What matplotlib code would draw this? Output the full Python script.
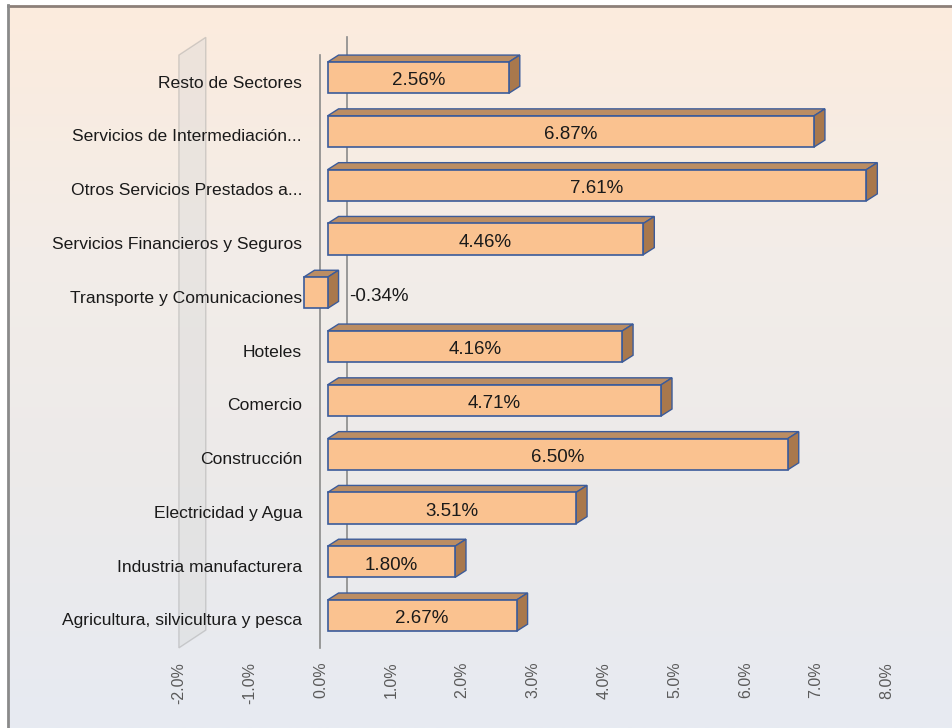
import matplotlib

matplotlib.use("Agg")
import matplotlib.pyplot as plt
import numpy as np
from matplotlib.colors import LinearSegmentedColormap
from matplotlib.patches import Polygon, Rectangle

plt.rcParams["font.family"] = ["Liberation Sans", "DejaVu Sans"]

# Datos (de abajo hacia arriba)
sectores = [
    "Agricultura, silvicultura y pesca",
    "Industria manufacturera",
    "Electricidad y Agua",
    "Construcción",
    "Comercio",
    "Hoteles",
    "Transporte y Comunicaciones",
    "Servicios Financieros y Seguros",
    "Otros Servicios Prestados a...",
    "Servicios de Intermediación...",
    "Resto de Sectores",
]
crecimiento = [2.67, 1.80, 3.51, 6.50, 4.71, 4.16, -0.34, 4.46, 7.61, 6.87, 2.56]
ticks_x = [-2, -1, 0, 1, 2, 3, 4, 5, 6, 7, 8]

# Estilo 3D
FRONT = 0.10       # desplazamiento de la cara frontal
DX, DY = 0.155, 0.13   # profundidad de la barra
WX, WY = 0.38, 0.33    # profundidad de las paredes
H = 0.58
C_FRONT = "#fac290"
C_TOP = "#bb8d63"
C_SIDE = "#a9784c"
C_EDGE = "#3b5b9a"

fig = plt.figure(figsize=(9.53, 7.28), dpi=100)

# fondo degradado
bg = fig.add_axes([0, 0, 1, 1], zorder=-10)
bg.set_xlim(0, 953)
bg.set_ylim(728, 0)
bg.axis("off")
cmap = LinearSegmentedColormap.from_list(
    "fondo", ["#fcebdd", "#f3ede8", "#eceaea", "#e7ebf2"])
grad = np.linspace(0, 1, 256).reshape(-1, 1)
bg.imshow(grad, cmap=cmap, aspect="auto", extent=[9, 953, 728, 6])
bg.add_patch(Rectangle((0, 0), 953, 5.5, color="white", lw=0))
bg.add_patch(Rectangle((0, 0), 8, 728, color="white", lw=0))
bg.plot([8, 953], [6, 6], color="#8c8079", lw=2)
bg.plot([8.5, 8.5], [5, 728], color="#8a8a8a", lw=2)

ax = fig.add_axes([0.158, 0.1071, 0.8172, 0.8516])
ax.set_xlim(-2.4, 8.6)
ax.set_ylim(-0.54, 10.985)
ax.patch.set_alpha(0)
for s in ax.spines.values():
    s.set_visible(False)

y_front_top, y_front_bot = 10.52, -0.50

# pared lateral izquierda
wall = Polygon([(-2, y_front_bot), (-2, y_front_top),
                (-2 + WX, y_front_top + WY), (-2 + WX, y_front_bot + WY)],
               closed=True, facecolor="#d6d6d6", alpha=0.35,
               edgecolor="#8f8f8f", lw=1, zorder=1)
ax.add_patch(wall)

# líneas del cero (frente y fondo)
ax.plot([0, 0], [y_front_bot, y_front_top], color="#8a8a8a", lw=1.2, zorder=1)
ax.plot([WX, WX], [y_front_bot + WY, y_front_top + WY], color="#8a8a8a",
        lw=1.2, zorder=1)

for i, v in enumerate(crecimiento):
    yc = i + 0.10
    x_lo = min(0, v) + FRONT
    x_hi = max(0, v) + FRONT
    y0, y1 = yc - H / 2, yc + H / 2
    top = Polygon([(x_lo, y1), (x_hi, y1), (x_hi + DX, y1 + DY), (x_lo + DX, y1 + DY)],
                  closed=True, facecolor=C_TOP, edgecolor=C_EDGE, lw=1, zorder=3)
    side = Polygon([(x_hi, y0), (x_hi, y1), (x_hi + DX, y1 + DY), (x_hi + DX, y0 + DY)],
                   closed=True, facecolor=C_SIDE, edgecolor=C_EDGE, lw=1, zorder=3)
    ax.add_patch(top)
    ax.add_patch(side)
    ax.barh(yc, x_hi - x_lo, left=x_lo, height=H, color=C_FRONT,
            edgecolor=C_EDGE, lw=1.2, zorder=4)
    if v >= 0:
        ax.text((x_lo + x_hi) / 2, yc - 0.06, f"{v:.2f}%", ha="center",
                va="center", fontsize=13.5, color="#1a1a1a", zorder=5)
    else:
        ax.text(x_hi + DX + 0.15, yc - 0.06, f"{v:.2f}%", ha="left",
                va="center", fontsize=13.5, color="#1a1a1a", zorder=5)
    ax.text(-0.26, i, sectores[i], ha="right", va="center",
            fontsize=12.6, color="#1a1a1a", zorder=2)

ax.set_yticks([])
ax.set_xticks(ticks_x)
ax.set_xticklabels([f"{t:.1f}%" for t in ticks_x], rotation=90,
                   fontsize=11.5, color="#5a5a5a")
ax.tick_params(axis="x", length=0, pad=8.5)

fig.savefig("out.png", dpi=100)
